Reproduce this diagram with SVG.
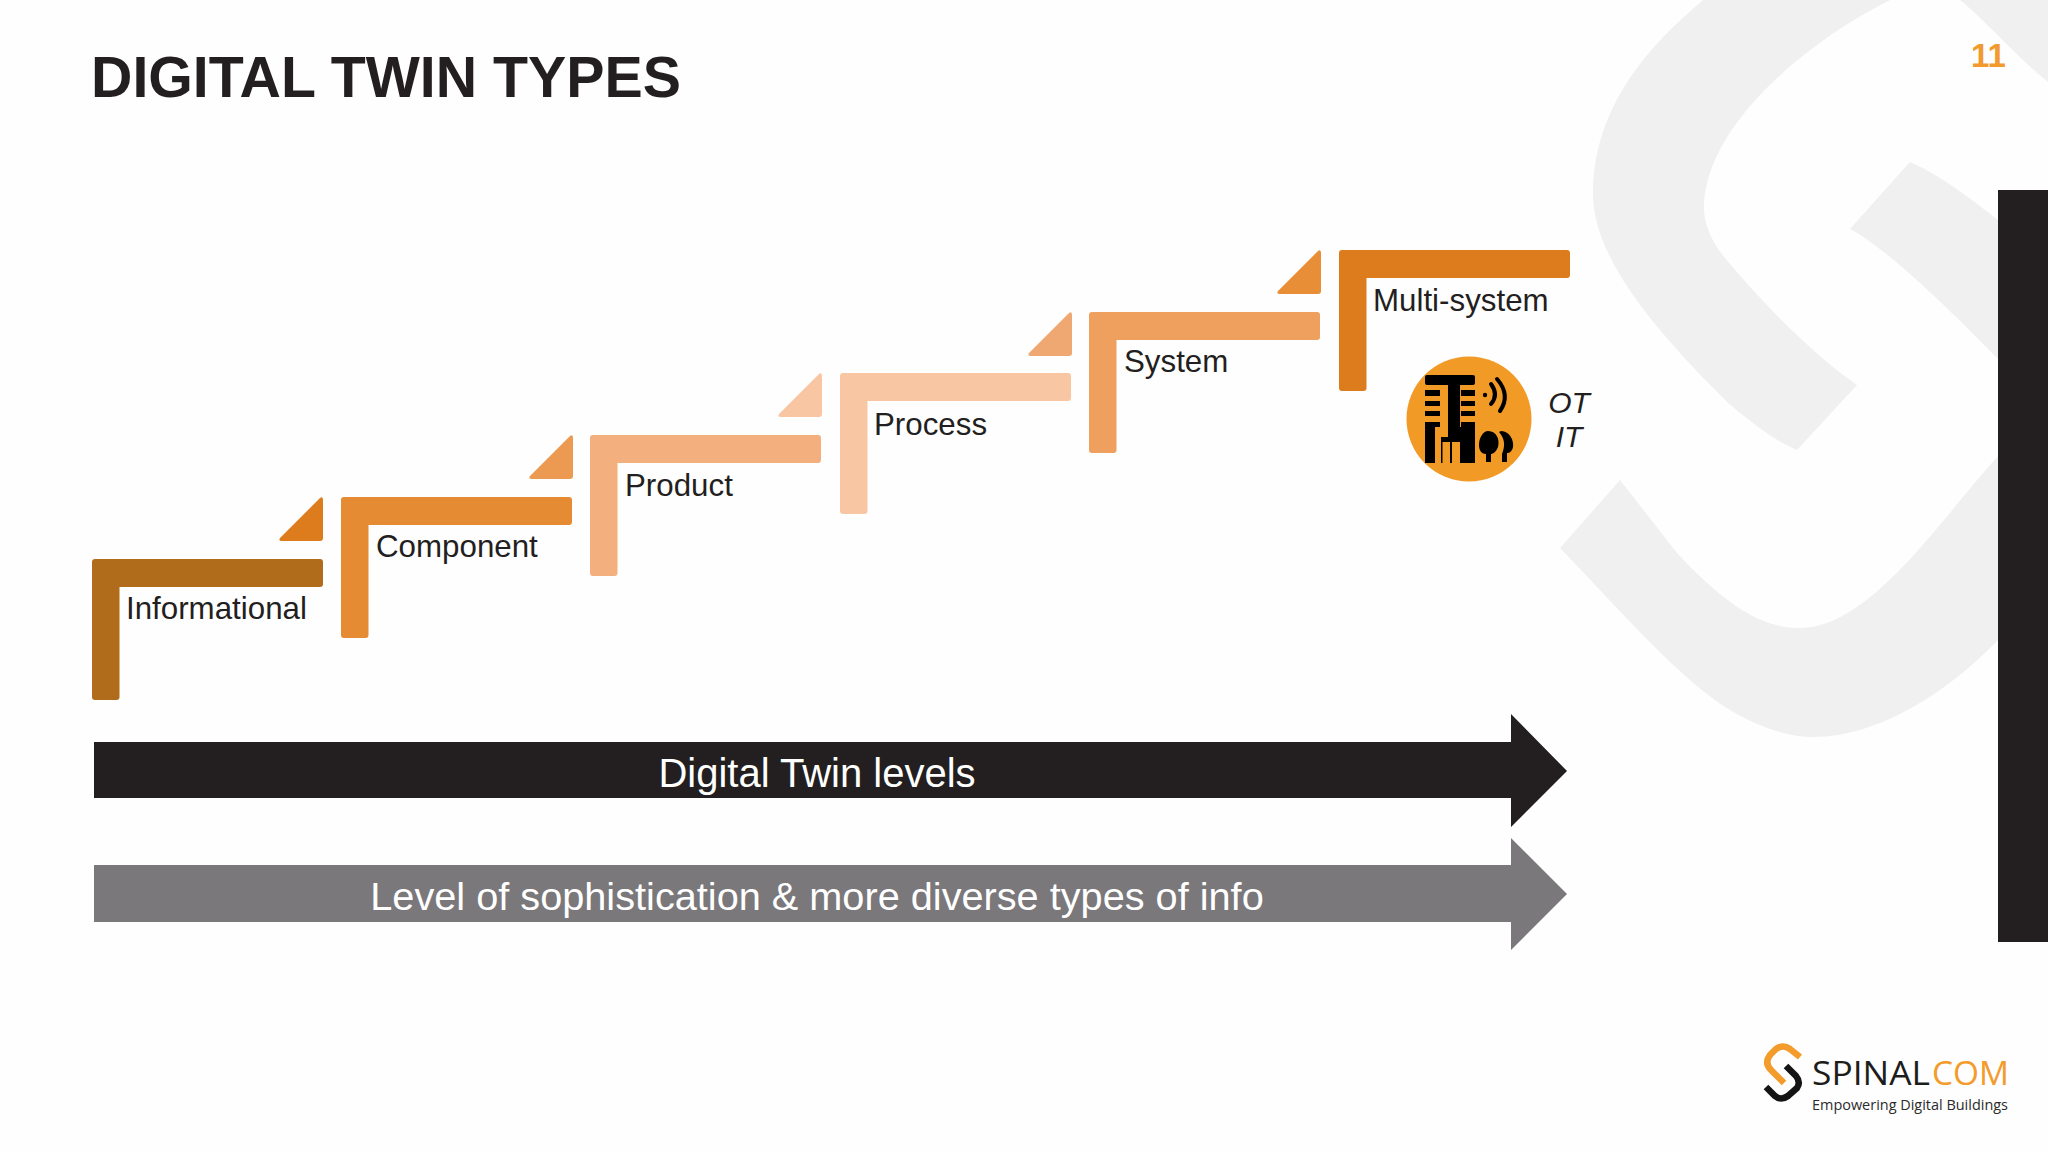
<svg xmlns="http://www.w3.org/2000/svg" width="2048" height="1152" viewBox="0 0 2048 1152">
<style>
text{font-family:"Liberation Sans",Arial,sans-serif}
.lbl{font-size:31.300px;fill:#231F20}
.wm{fill:#F0F0F1}
.arr{font-size:40px;fill:#fff;text-anchor:middle}
.arr2{font-size:39.700px;fill:#fff;text-anchor:middle}
.ot{font-size:30px;font-style:italic;fill:#231F20;text-anchor:middle}
.bk{fill:#000}
.og{fill:#F29A26}
</style>
<defs>
<path id="step" d="M3 0H228a3 3 0 0 1 3 3V25a3 3 0 0 1-3 3H27.500V138a3 3 0 0 1-3 3H3a3 3 0 0 1-3-3V3a3 3 0 0 1 3-3Z"/>
<path id="tri" d="M41 1Q44-1 44 3V41a3 3 0 0 1-3 3H3Q-1 44 1 41Z"/>
</defs>
<rect width="2048" height="1152" fill="#FEFEFE"/>
<g id="watermark">
<path class="wm" d="M1703 0C1675 25 1593 90 1593 194C1593 260 1660 335 1727 402C1760 430 1780 443 1797 450L1857 385C1810 352 1760 300 1725 258C1712 242 1704 225 1704 208C1704 130 1800 45 1890 0Z"/>
<path class="wm" d="M1960 0C1985 20 2020 60 2048 82V0Z"/>
<path class="wm" d="M1910 162L1850 229C1890 250 1960 320 1998 359V220C1970 198 1940 175 1910 162Z"/>
<path class="wm" d="M1620 480L1560 548C1620 610 1680 680 1730 710C1760 728 1790 737 1813 737C1880 737 1950 690 1998 640V456C1940 520 1870 628 1800 628C1765 628 1730 610 1677 553Z"/>
</g>
<rect id="side-bar" x="1998" y="190" width="50" height="752" fill="#231F20"/>
<text id="title" x="91" y="97" font-size="57.300" font-weight="700" fill="#231F20">DIGITAL TWIN TYPES</text>
<text id="page-number" x="1971" y="67" font-size="33" font-weight="700" fill="#F29A2E">11</text>
<g id="connectors">
<use href="#tri" x="279" y="497" fill="#DC7C1C"/>
<use href="#tri" x="529" y="435" fill="#EC9A52"/>
<use href="#tri" x="778" y="373" fill="#F9C6A4"/>
<use href="#tri" x="1028" y="312" fill="#F0A873"/>
<use href="#tri" x="1277" y="250" fill="#E88E37"/>
</g>
<g id="informational"><use href="#step" x="92" y="559" fill="#B06C1B"/><text class="lbl" x="126" y="619">Informational</text></g>
<g id="component"><use href="#step" x="341" y="497" fill="#E58B33"/><text class="lbl" x="376" y="557">Component</text></g>
<g id="product"><use href="#step" x="590" y="435" fill="#F3AF7D"/><text class="lbl" x="625" y="496">Product</text></g>
<g id="process"><use href="#step" x="840" y="373" fill="#F9C6A4"/><text class="lbl" x="874" y="435">Process</text></g>
<g id="system"><use href="#step" x="1089" y="312" fill="#EF9F5E"/><text class="lbl" x="1124" y="372">System</text></g>
<g id="multi-system"><use href="#step" x="1339" y="250" fill="#DC7C1C"/><text class="lbl" x="1373" y="311">Multi-system</text></g>
<g id="ot-it">
<circle cx="1469" cy="419" r="62.500" class="og"/>
<rect class="bk" x="1425" y="375" width="50" height="10" rx="2"/>
<rect class="bk" x="1448" y="375" width="12" height="66"/>
<path class="bk" d="M1425 390h15v6h-15zM1425 401h15v5h-15zM1425 411h15v5h-15zM1425 422h15v5h-15zM1461 390h14v6h-14zM1461 401h14v5h-14zM1461 411h14v5h-14zM1461 422h14v5h-14z"/>
<path class="bk" d="M1425 427H1475V463H1425Z"/>
<path class="og" d="M1435 427H1448V437H1435ZM1435 437H1441V463H1435ZM1442.500 442H1450V463H1442.500ZM1452 442H1460V463H1452Z"/>
<circle class="bk" cx="1485" cy="395" r="2.200"/>
<path d="M1491 384Q1499 395 1491 404M1497 379Q1511 395 1500 411" fill="none" stroke="#000" stroke-width="4" stroke-linecap="round"/>
<path class="bk" d="M1488 431C1497 431 1500 440 1498 447C1496 452 1493 454 1491 454V462H1486V454C1482 454 1479 451 1479 445C1479 438 1483 431 1488 431Z"/>
<path class="bk" d="M1501 431C1510 431 1514 441 1513 447C1512 452 1509 453 1507 453V462H1502V454C1506 444 1504 438 1499 432Z"/>
<text class="ot" x="1569" y="413">OT</text>
<text class="ot" x="1569" y="447">IT</text>
</g>
<g id="digital-twin-levels">
<path fill="#231F20" d="M94 742H1511V714L1567 771L1511 827V798H94Z"/>
<text class="arr" x="817" y="787">Digital Twin levels</text>
</g>
<g id="sophistication">
<path fill="#7A787B" d="M94 865H1511V838L1567 894L1511 950V922H94Z"/>
<text class="arr2" x="817" y="910">Level of sophistication &amp; more diverse types of info</text>
</g>
<g id="logo">
<path d="M1800 1057L1790 1049Q1783 1044 1776 1049L1770 1055Q1764 1063 1771 1070L1784 1083" fill="none" stroke="#F39B2B" stroke-width="6.500"/>
<path d="M1786 1066L1796 1076Q1801 1082 1797 1088L1788 1096Q1781 1101 1775 1096L1766 1087" fill="none" stroke="#141414" stroke-width="6.500"/>
<text x="1812" y="1085" font-size="33" style="font-family:'Open Sans',sans-serif" fill="#1D1D1B" textLength="118" lengthAdjust="spacingAndGlyphs">SPINAL</text>
<text x="1932" y="1085" font-size="33" style="font-family:'Open Sans',sans-serif" fill="#F39B2B" textLength="77" lengthAdjust="spacingAndGlyphs">COM</text>
<text x="1812" y="1110" font-size="14" style="font-family:'Open Sans',sans-serif" fill="#2B2B2B" textLength="196" lengthAdjust="spacingAndGlyphs">Empowering Digital Buildings</text>
</g>
</svg>
